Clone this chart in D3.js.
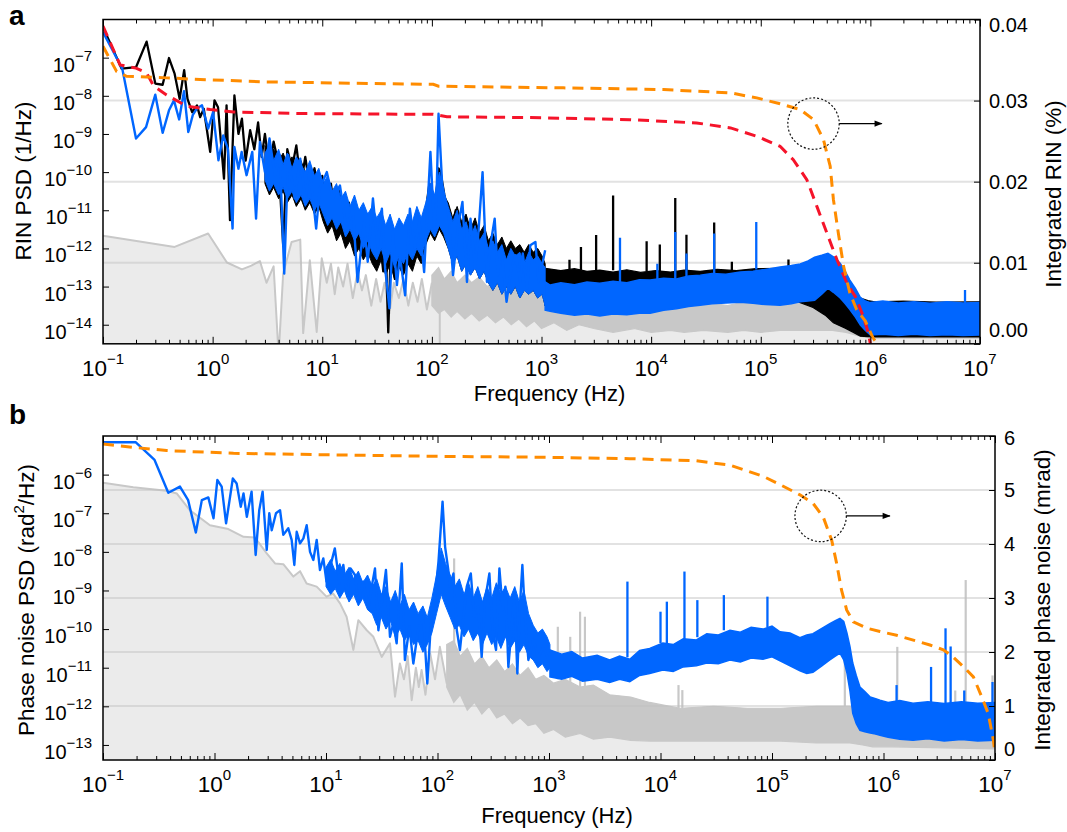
<!DOCTYPE html>
<html><head><meta charset="utf-8">
<script src="https://cdn.jsdelivr.net/npm/d3@7"></script>
<style>body{margin:0;background:#fff} text{font-family:"Liberation Sans",Arial,Helvetica,sans-serif;fill:#000}</style>
</head><body><svg id="c" width="1067" height="832"></svg>
<script>
// ===== DATA (frequencies in Hz, PSD values stored as log10 of the value) =====
const xTickExp = [-1,0,1,2,3,4,5,6,7];
const aYTickExp = [-7,-8,-9,-10,-11,-12,-13,-14];
const bYTickExp = [-6,-7,-8,-9,-10,-11,-12,-13];
const aRightTicks = [0,0.01,0.02,0.03,0.04];
const bRightTicks = [0,1,2,3,4,5,6];
const aGridVals = [0.01,0.02,0.03];
const bGridVals = [1,2,3,4,5];

// Panel a — grey (detection floor)
const aGreyLineF = [0.1,0.45,0.91,1.35,1.85,2.26,2.7,3.1,3.6,4.0,4.4,5.25,6.3,6.7,7.7,8.9,9.9,11,12,13,14,15.5,17,19,21,23,25,28,31,34,37,41,45,50,55,61,67,74,81,90,100];
const aGreyLineLog = [-11.67,-11.96,-11.61,-12.37,-12.55,-12.45,-12.33,-12.9,-12.47,-14.8,-12.66,-11.83,-11.77,-14.22,-12.31,-14.19,-12.26,-12.9,-12.4,-13.2,-12.5,-13.0,-12.4,-13.3,-12.6,-13.1,-12.7,-13.5,-12.8,-13.4,-12.9,-13.7,-12.9,-13.3,-12.8,-13.5,-12.9,-13.4,-12.8,-13.6,-12.9];
const aGreyBandF = [100,115,130,150,170,200,230,270,320,380,450,530,620,730,860,1000,1300,1700,2200,3000,4500,7000,1e4,1.5e4,2e4,3e4,5e4,7e4,1e5,1.5e5,2.5e5,3.5e5,4.5e5,6e5,8e5,1e6,1e7];
const aGreyBandHi = [-12.7,-12.5,-12.8,-12.6,-12.9,-12.7,-12.9,-12.75,-13.0,-12.85,-13.1,-12.9,-13.1,-13.0,-13.2,-13.0,-13.25,-13.15,-13.35,-13.3,-13.45,-13.35,-13.5,-13.4,-13.5,-13.4,-13.5,-13.4,-13.45,-13.4,-13.4,-13.35,-13.33,-13.6,-14.0,-14.25,-14.25];
const aGreyBandLo = [-13.5,-13.7,-13.6,-13.8,-13.65,-13.85,-13.7,-13.9,-13.75,-13.95,-13.8,-14.0,-13.85,-14.05,-13.9,-14.1,-13.95,-14.15,-14.0,-14.1,-14.2,-14.1,-14.2,-14.15,-14.2,-14.15,-14.2,-14.15,-14.2,-14.15,-14.15,-14.15,-14.15,-14.2,-14.3,-14.35,-14.35];
const aGreySpikeF = [118];
const aGreySpikeBase = [-13.0];
const aGreySpikePeak = [-14.7];

// Panel a — dense-noise core envelopes (3 Hz – 1.08 kHz), shared sample frequencies
const aCoreF = [3,3.3,3.6,4.0,4.4,4.8,5.3,5.8,6.4,7.0,7.7,8.5,9.3,10.2,11.2,12.3,13.5,14.8,16.3,17.9,19.7,21.6,23.7,26,28.6,31.4,34.5,37.9,41.6,45.7,50.2,55.1,60.5,66.5,73,80,88,97,106,117,128,141,155,170,187,205,225,248,272,299,328,360,396,435,478,525,577,634,696,765,840,923,1014,1080];

// Panel a — black RIN
const aBlackLineF = [0.1,0.148,0.2,0.25,0.3,0.35,0.4,0.45,0.5,0.55,0.59,0.65,0.72,0.77,0.83,0.95,1.04,1.12,1.27,1.34,1.44,1.58,1.72,1.85,2.0,2.2,2.4,2.6,2.8,3.0,3.3,3.6,4.0,4.4,4.8,5.3,5.8,6.4,7,7.7,8.5,9.3,10,11,12,13,14.5,16,17.5,19,21,23,25,27,29,31,33,36,38,40,42,46,50,55,60,66,72,80,88,95,105,115,120,130,140,150,165,180,200,220,240,265,290,320,350,390,430,480,530,580,640,700,780,860,950,1080];
const aBlackLineLog = [-6.2,-7.29,-7.25,-6.58,-7.68,-7.71,-7.01,-7.42,-8.08,-7.33,-8.08,-8.43,-8.25,-8.56,-8.34,-9.47,-8.12,-8.3,-10.17,-8.25,-11.26,-7.99,-9.0,-8.6,-9.7,-8.9,-9.4,-8.7,-9.6,-9.0,-9.9,-9.2,-9.8,-11.9,-9.4,-9.9,-9.3,-10.3,-9.6,-10.4,-9.9,-10.7,-10.1,-10.9,-10.3,-11.1,-10.5,-11.4,-10.8,-11.6,-11.0,-11.8,-11.2,-12.2,-11.4,-12.4,-11.6,-12.6,-12.0,-14.2,-12.2,-12.8,-11.9,-12.6,-11.5,-12.3,-11.4,-12.0,-11.0,-10.3,-11.2,-9.9,-10.0,-10.6,-11.0,-11.6,-11.0,-11.9,-11.3,-12.2,-11.6,-12.4,-11.8,-12.5,-11.9,-12.6,-12.2,-12.8,-12.3,-12.9,-12.2,-12.9,-12.3,-12.8,-12.3,-12.6];
const aBlackCoreHi = [-9.3,-9.6,-9.4,-9.7,-9.5,-9.8,-9.6,-9.9,-9.7,-10.0,-9.8,-10.1,-10.0, -10.4,-10.2,-10.6,-10.4,-10.8,-10.6,-11.0,-10.8,-11.1,-10.9,-11.2,-11.0, -11.3,-11.1,-11.5,-11.3,-11.6,-11.4,-11.5,-11.2,-11.4,-11.0,-11.3, -10.9,-10.5,-10.7,-10.2,-10.6, -10.8,-11.2,-10.9,-11.3,-11.1,-11.5,-11.2,-11.6,-11.4, -11.8,-11.6,-11.9,-11.7,-12.0,-11.8,-12.0,-11.9,-12.1,-11.9,-12.1,-12.0,-12.2,-12.4];
const aBlackCoreLo = [-10.3,-10.6,-10.4,-10.7,-10.5,-10.8,-10.6,-10.9,-10.7,-11.0,-10.8,-11.1,-10.9, -11.3,-11.6,-11.4,-11.8,-11.6,-12.0,-11.8,-12.2,-12.0,-12.3,-12.1,-12.4, -12.6,-12.3,-12.7,-12.4,-12.8,-12.5,-12.7,-12.4,-12.6,-12.2,-12.4, -11.9,-11.6,-11.8,-11.5,-11.7, -12.0,-12.4,-12.2,-12.6,-12.4,-12.7,-12.5,-12.8,-12.6, -12.9,-13.1,-12.9,-13.2,-13.0,-13.2,-13.0,-13.3,-13.1,-13.2,-13.1,-13.3,-13.2,-13.5];
const aBlackBandF = [1080,1500,2000,2600,3400,4500,6000,8000,1.1e4,1.5e4,2e4,2.8e4,4e4,6e4,9e4,1.5e5,2.2e5,3e5,3.87e5,4.6e5,5.9e5,7e5,8.1e5,9.5e5,1.1e6,2e6,4e6,1e7];
const aBlackBandHi = [-12.52,-12.58,-12.53,-12.6,-12.57,-12.62,-12.56,-12.63,-12.58,-12.62,-12.57,-12.6,-12.55,-12.58,-12.53,-12.52,-12.55,-12.5,-12.52,-12.7,-12.96,-13.15,-13.3,-13.37,-13.4,-13.38,-13.41,-13.4];
const aBlackBandLo = [-13.49,-13.47,-13.45,-13.45,-13.45,-13.44,-13.44,-13.43,-13.43,-13.43,-13.43,-13.43,-13.4,-13.38,-13.37,-13.36,-13.4,-13.55,-13.75,-13.95,-14.09,-14.2,-14.3,-14.31,-14.32,-14.32,-14.32,-14.32];
const aBlackSpikeF = [1800,2290,3150,4500,9100,1.2e4,1.66e4,2.1e4,3.76e4,5.45e4,1.79e5];
const aBlackSpikeBase = [-12.55,-12.57,-12.57,-12.57,-12.6,-12.6,-12.6,-12.6,-12.6,-12.6,-12.52];
const aBlackSpikePeak = [-12.3,-11.96,-11.65,-10.61,-11.81,-11.9,-10.68,-11.64,-11.32,-12.35,-12.29];

// Panel a — blue RIN
const aBlueLineF = [0.1,0.15,0.2,0.247,0.30,0.35,0.40,0.444,0.495,0.548,0.6,0.66,0.72,0.8,0.91,1.01,1.13,1.25,1.38,1.52,1.58,1.72,1.84,2.04,2.3,2.49,2.7,3.0,3.3,3.7,4.1,4.5,4.9,5.6,6.3,7.0,7.7,8.8,9.5,11,12.5,14.5,16.6,19,21,24,26,29,32,35,37.5,41,44,48,51,57,63,70,77,85,97,105,110,115,124,133,142,156,174,190,209,225,248,266,290,318,338,374,400,430,480,530,580,640,675,740,790,880,940,1080];
const aBlueLineLog = [-6.33,-7.29,-9.12,-8.82,-7.97,-8.97,-8.38,-8.12,-8.62,-7.88,-8.95,-8.5,-8.33,-8.25,-8.86,-8.43,-9.69,-9.04,-9.39,-11.48,-9.34,-9.91,-9.47,-10.08,-9.47,-11.22,-9.21,-10.0,-9.12,-10.08,-9.56,-12.66,-9.56,-10.69,-9.65,-10.78,-9.91,-11.48,-10.43,-10.0,-10.69,-10.35,-11.48,-10.96,-12.88,-11.31,-12.35,-10.69,-12.0,-10.96,-12.53,-13.57,-11.57,-12.96,-12.18,-13.23,-10.96,-12.0,-11.3,-12.62,-9.47,-11.48,-10.78,-8.47,-10.3,-10.78,-11.13,-12.7,-11.39,-10.78,-12.88,-11.22,-12.53,-11.57,-10.0,-12.88,-12.0,-11.22,-12.7,-12.0,-13.4,-12.53,-12.18,-12.88,-12.13,-13.05,-11.92,-11.83,-12.88,-12.05];
const aBlueCoreHi = [-9.5,-9.3,-9.7,-9.4,-9.8,-9.5,-9.9,-9.6,-9.8,-10.0,-9.7,-10.1,-9.9, -10.3,-10.1,-10.5,-10.3,-10.7,-10.5,-10.9,-10.6,-11.0,-10.8,-11.1,-10.9, -11.2,-11.0,-11.4,-11.1,-11.5,-11.2,-11.4,-11.1,-11.3,-10.9,-11.2, -10.8,-10.3,-10.6,-10.0,-10.5, -10.9,-11.3,-11.0,-11.5,-11.3,-11.7,-11.4,-11.8,-11.6, -12.0,-11.8,-12.1,-11.9,-12.3,-12.0,-12.2,-12.1,-12.4,-12.1,-12.3,-12.2,-12.4,-12.5];
const aBlueCoreLo = [-10.2,-10.5,-10.3,-10.6,-10.4,-10.7,-10.5,-10.8,-10.6,-10.9,-10.7,-11.0,-10.8, -11.1,-11.4,-11.2,-11.5,-11.3,-11.7,-11.5,-11.8,-11.6,-12.0,-11.8,-12.1, -12.3,-12.0,-12.4,-12.1,-12.5,-12.2,-12.4,-12.1,-12.3,-12.0,-12.2, -11.8,-11.5,-11.7,-11.4,-11.6, -12.0,-12.4,-12.2,-12.6,-12.4,-12.7,-12.5,-12.8,-12.6, -12.9,-13.1,-12.9,-13.2,-13.0,-13.2,-13.0,-13.3,-13.1,-13.2,-13.1,-13.3,-13.2,-13.5];
const aBlueBandF = [1080,1200,1500,2000,2600,3400,4500,6000,7800,9800,1.3e4,1.7e4,2.2e4,2.8e4,3.6e4,4.8e4,6.5e4,8.5e4,1.1e5,1.5e5,1.9e5,2.29e5,2.7e5,3.1e5,3.6e5,4.1e5,4.6e5,5.3e5,5.9e5,6.5e5,7.3e5,8.1e5,9e5,1e6,1.3e6,1.8e6,2.5e6,3.5e6,5e6,7e6,1e7];
const aBlueBandHi = [-12.88,-12.96,-12.9,-12.95,-12.88,-12.91,-12.86,-12.9,-12.82,-12.83,-12.78,-12.8,-12.72,-12.7,-12.66,-12.68,-12.62,-12.6,-12.55,-12.49,-12.45,-12.41,-12.33,-12.23,-12.18,-12.13,-12.22,-12.39,-12.6,-12.83,-13.05,-13.28,-13.38,-13.42,-13.38,-13.43,-13.4,-13.44,-13.4,-13.43,-13.42];
const aBlueBandLo = [-13.62,-13.65,-13.7,-13.75,-13.72,-13.77,-13.72,-13.74,-13.7,-13.7,-13.62,-13.58,-13.52,-13.49,-13.45,-13.43,-13.41,-13.44,-13.47,-13.49,-13.45,-13.4,-13.38,-13.36,-13.2,-13.04,-13.15,-13.3,-13.45,-13.6,-13.8,-14.01,-14.15,-14.27,-14.25,-14.28,-14.25,-14.28,-14.26,-14.28,-14.27];
const aBlueSpikeF = [5200,1.14e4,1.66e4,2.1e4,3.76e4,9.1e4,7.3e6];
const aBlueSpikeBase = [-12.9,-12.83,-12.8,-12.75,-12.7,-12.55,-13.43];
const aBlueSpikePeak = [-11.72,-12.4,-11.57,-12.13,-11.61,-11.31,-13.09];

// Panel a — integrated RIN (%)
const aRedF = [0.1,0.143,0.2,0.25,0.29,0.38,0.58,0.95,1.55,6.3,103,137,790,6.4e3,2.6e4,5.3e4,9.2e4,1.5e5,1.98e5,2.63e5,3.25e5,4e5,4.95e5,6.1e5,7.3e5,8.6e5,9.55e5,1e6];
const aRedVal = [0.0392,0.0344,0.0340,0.0334,0.0318,0.0307,0.0293,0.0289,0.0286,0.0284,0.0283,0.0280,0.0279,0.02765,0.02724,0.02663,0.0256,0.02436,0.0227,0.02025,0.01695,0.0137,0.0104,0.0075,0.0058,0.0034,0.0014,0.0];
const aOrangeF = [0.1,0.133,0.164,0.38,0.77,3.1,103,115,1580,1.3e4,5.3e4,9.2e4,1.5e5,2.29e5,3.03e5,3.73e5,4.3e5,4.6e5,5.1e5,5.7e5,6.5e5,7.5e5,9e5,1.05e6,1.15e6];
const aOrangeVal = [0.0367,0.0336,0.0330,0.0328,0.0326,0.0323,0.0320,0.03177,0.03157,0.03136,0.03095,0.03033,0.0296,0.0289,0.02765,0.0252,0.0219,0.0178,0.01367,0.00954,0.00626,0.0042,0.0028,0.0008,0.0];
const aMarker = {f:3.03e5, v:0.02716, arrowTo:1.27e6};

// Panel b — grey floor
const bGreyLineF = [0.1,0.187,0.37,0.46,0.6,0.91,1.33,1.82,2.31,2.94,3.49,4.14,5.1,5.85,6.7,8.25,10.1,11.6,13.4,15.3,17.6,19.5,23.2,26.6,31.6,37.5,41.6,46,50,54,58.7,64,68,72,78,86,95,105,121];
const bGreyLineLog = [-6.21,-6.33,-6.42,-6.49,-6.92,-7.31,-7.41,-7.61,-7.63,-8.04,-8.3,-8.32,-8.64,-8.5,-8.82,-8.9,-9.16,-9.08,-9.34,-9.68,-10.54,-9.77,-10.03,-10.2,-10.72,-10.37,-11.75,-10.89,-11.3,-10.7,-11.84,-11.0,-11.5,-11.06,-11.7,-10.63,-11.3,-10.46,-11.41];
const bGreyBandF = [121,140,160,185,215,250,290,340,400,470,550,650,760,900,1100,1400,1900,2500,3500,5400,8000,1.5e4,3e4,6e4,1.2e5,2.5e5,5e5,6.5e5,8e5,1.2e6,1e7];
const bGreyBandHi = [-10.4,-10.3,-10.7,-10.5,-10.9,-10.7,-11.0,-10.8,-11.1,-10.9,-11.2,-11.0,-11.3,-11.2,-11.4,-11.3,-11.5,-11.45,-11.7,-11.76,-11.9,-12.05,-12.0,-12.05,-12.05,-12.0,-12.0,-12.2,-12.5,-12.6,-12.6];
const bGreyBandLo = [-11.5,-11.9,-11.7,-12.1,-11.9,-12.2,-12.0,-12.3,-12.2,-12.45,-12.3,-12.5,-12.45,-12.7,-12.6,-12.8,-12.7,-12.85,-12.8,-12.88,-12.9,-12.9,-12.9,-12.9,-12.9,-12.95,-12.95,-13.0,-13.05,-13.05,-13.1];
const bGreySpikeF = [141,1200,1550,1900,2100,1.45e4,1.57e4,4.5e5,1.33e6,4.4e6,5.46e6,9.5e6];
const bGreySpikeBase = [-10.5,-11.3,-11.4,-11.5,-11.5,-12.05,-12.05,-12.0,-12.6,-12.6,-12.6,-12.6];
const bGreySpikePeak = [-8.17,-9.94,-10.2,-9.55,-9.68,-11.45,-11.58,-9.94,-10.46,-11.59,-8.73,-11.2];

// Panel b — blue phase noise
const bBlueLineF = [0.1,0.196,0.29,0.385,0.49,0.58,0.68,0.77,0.88,0.98,1.06,1.16,1.27,1.46,1.58,1.72,1.82,1.95,2.15,2.34,2.52,2.7,2.94,3.1,3.26,3.56,3.87,4.14,4.59,4.92,5.2,5.46,5.85,6.27,6.71,7.19,7.7,8.25,8.83,9.46,10.1,10.9,12,13.2,14.3,15.5,16.6,18.2,19.5,21.6,24,25.7,27.5,29.5,32.2,34.5,37.5,40.2,43,47.8,51,56,60.7,67,74.6,81,88.7,95,102,111,117,125,129,139,149,159,171,183,199,213,232,249,267,292,313,335,359,385,406,432,463,489,520,550,577,610,653,724,803,891,1023];
const bBlueLineLog = [-5.16,-5.16,-5.62,-6.47,-6.31,-6.66,-7.5,-6.66,-6.59,-7.13,-6.14,-6.31,-7.26,-6.1,-6.23,-6.83,-6.49,-7.09,-6.44,-8.08,-6.92,-6.44,-7.95,-7.0,-7.44,-7.0,-6.92,-7.56,-7.39,-7.69,-8.34,-7.48,-7.78,-7.65,-7.31,-8.0,-8.21,-7.69,-8.47,-8.17,-8.77,-8.39,-7.91,-8.82,-8.34,-9.16,-8.43,-8.6,-9.29,-8.77,-9.46,-8.9,-8.43,-10.03,-9.16,-8.47,-10.2,-9.85,-10.37,-8.3,-10.8,-9.94,-10.89,-10.03,-9.68,-11.41,-9.51,-9.16,-8.26,-6.7,-7.87,-8.47,-8.9,-8.56,-10.03,-10.54,-9.68,-8.9,-8.56,-9.68,-9.42,-10.72,-9.25,-8.56,-10.11,-10.54,-8.43,-9.51,-8.9,-10.98,-9.94,-9.08,-11.15,-9.34,-8.34,-9.68,-10.8,-10.28,-10.72,-10.46,-10.89];
const bCoreF = [10,11,12.1,13.3,14.6,16.1,17.7,19.5,21.4,23.6,26,28.5,31.4,34.5,38,41.8,46,50.5,55.6,61,67,74,81,89,98,108,118,130,143,157,173,190,209,230,253,278,306,337,370,407,448,493,542,596,656,722,794,873,960,1020];
const bBlueCoreHi = [-8.4,-8.2,-8.5,-8.3,-8.6,-8.4,-8.7,-8.5,-8.8,-8.6, -8.9,-8.7,-9.1,-8.9,-9.3,-9.0,-9.4,-9.1,-9.5,-9.3, -9.6,-9.4,-9.7,-9.2,-8.6,-7.9,-8.3,-8.6,-8.9,-8.7, -9.1,-8.8,-9.2,-8.9,-9.3,-8.9,-9.2,-8.8,-9.1,-8.9, -9.2,-8.9,-9.3,-9.0,-9.6,-9.9,-10.1,-10.0,-10.2,-10.4];
const bBlueCoreLo = [-8.9,-9.1,-8.95,-9.2,-9.0,-9.3,-9.1,-9.4,-9.2,-9.5, -9.6,-9.9,-9.7,-10.0,-9.8,-10.2,-10.0,-10.3,-10.1,-10.4, -10.3,-10.6,-10.4,-10.1,-9.6,-9.1,-9.4,-9.7,-10.0,-9.9, -10.2,-10.0,-10.3,-10.1,-10.4,-10.1,-10.4,-10.2,-10.5,-10.2, -10.5,-10.3,-10.6,-10.4,-10.7,-10.8,-11.0,-10.9,-11.1,-11.0];
const bBlueBandF = [1020,1300,1600,2000,2700,3500,4300,5300,6500,8000,1.05e4,1.3e4,1.6e4,2.1e4,2.6e4,3.3e4,4.2e4,5.2e4,6.5e4,8.3e4,1.0e5,1.18e5,1.45e5,1.78e5,2.05e5,2.33e5,2.8e5,3.3e5,3.7e5,4.07e5,4.4e5,4.7e5,5.0e5,5.3e5,5.7e5,6.15e5,6.8e5,7.6e5,8.5e5,9.3e5,1.1e6,1.4e6,1.84e6,2.5e6,3.5e6,5e6,7e6,1e7];
const bBlueBandHi = [-10.54,-10.65,-10.58,-10.75,-10.68,-10.8,-10.7,-10.78,-10.55,-10.5,-10.36,-10.4,-10.25,-10.28,-10.12,-10.15,-10.03,-10.08,-9.95,-10.0,-9.92,-10.07,-10.1,-10.22,-10.15,-10.12,-9.98,-9.86,-9.78,-9.72,-9.8,-10.1,-10.45,-10.88,-11.2,-11.5,-11.62,-11.76,-11.8,-11.84,-11.9,-11.85,-11.92,-11.88,-11.93,-11.88,-11.92,-11.9];
const bBlueBandLo = [-11.24,-11.3,-11.22,-11.35,-11.3,-11.38,-11.3,-11.36,-11.2,-11.15,-11.06,-11.1,-10.98,-10.95,-10.88,-10.9,-10.8,-10.85,-10.75,-10.78,-10.72,-10.82,-10.95,-11.08,-11.15,-11.12,-10.95,-10.8,-10.7,-10.62,-10.8,-11.14,-11.6,-12.18,-12.45,-12.62,-12.66,-12.69,-12.72,-12.75,-12.8,-12.85,-12.88,-12.84,-12.9,-12.86,-12.9,-12.88];
const bBlueSpikeF = [5050,1e4,1.14e4,1.64e4,2.14e4,3.7e4,9.1e4,1.31e6,2.67e6,3.6e6,4e6,5.3e6,9.5e6];
const bBlueSpikeBase = [-10.73,-10.36,-10.36,-10.3,-10.21,-10.03,-9.95,-11.92,-11.92,-11.92,-11.92,-11.92,-11.92];
const bBlueSpikePeak = [-8.77,-9.55,-9.29,-8.51,-9.25,-9.12,-9.16,-11.45,-10.98,-9.98,-10.45,-11.59,-11.37];

// Panel b — integrated phase noise (mrad)
const bOrangeF = [0.1,0.187,0.372,1.48,11.6,129,676,5300,2.1e4,4.2e4,8.4e4,1.18e5,1.78e5,2.34e5,2.88e5,3.43e5,3.8e5,4.2e5,4.67e5,5.36e5,7.1e5,9.3e5,1.31e6,1.85e6,2.61e6,3.44e6,4.2e6,5.2e6,6.4e6,7.6e6,8.7e6,9.66e6,1e7];
const bOrangeVal = [5.85,5.79,5.73,5.68,5.65,5.62,5.61,5.58,5.54,5.46,5.25,5.1,4.91,4.75,4.5,4.07,3.64,3.15,2.78,2.56,2.44,2.38,2.31,2.22,2.13,2.04,1.91,1.73,1.54,1.17,0.86,0.37,0.13];
const bMarker = {f:2.73e5, v:4.52, arrowTo:1.14e6};

// ===== DRAWING =====
const svg = d3.select('#c');
const P10 = v => Math.pow(10, v);
const C = {blue:'#0066ff', black:'#000', grey:'#c8c8c8', light:'#ebebeb', red:'#f5142a', orange:'#ff8c00', grid:'rgba(190,190,190,0.45)'};

const defs = svg.append('defs');
defs.append('marker').attr('id','arr').attr('viewBox','0 0 10 10').attr('refX',9).attr('refY',5)
  .attr('markerWidth',10).attr('markerHeight',8).attr('markerUnits','userSpaceOnUse').attr('orient','auto')
  .append('path').attr('d','M0,1 L10,5 L0,9 Z').attr('fill','#000');

const minorTicks = [];
for (let e=-1;e<7;e++) for (let m=2;m<10;m++) minorTicks.push(m*Math.pow(10,e));
const majorTicks = xTickExp.map(P10);

function panel(o) {
  const {id, L, R, T, Bm, yTop, yBot, rDom} = o;
  const x = d3.scaleLog().domain([0.1,1e7]).range([L,R]);
  const y = d3.scaleLog().domain([P10(yBot),P10(yTop)]).range([Bm,T]);
  const r = d3.scaleLinear().domain(rDom).range([Bm,T]);
  defs.append('clipPath').attr('id','clip'+id).append('rect').attr('x',L).attr('y',T).attr('width',R-L).attr('height',Bm-T);
  const g = svg.append('g').attr('clip-path',`url(#clip${id})`);
  const idx = a => a.map((_,i)=>i);
  const line = (F,V) => d3.line().x(i=>x(F[i])).y(i=>y(P10(V[i])))(idx(F));
  const rline = (F,V) => d3.line().x(i=>x(F[i])).y(i=>r(V[i]))(idx(F));
  const band = (F,Lo,Hi) => d3.area().x(i=>x(F[i])).y0(i=>y(P10(Lo[i]))).y1(i=>y(P10(Hi[i])))(idx(F));
  const spikes = (F,Bs,Pk,col,w) => F.forEach((f,i)=>g.append('line').attr('x1',x(f)).attr('x2',x(f))
      .attr('y1',y(P10(Bs[i]))).attr('y2',y(P10(Pk[i]))).attr('stroke',col).attr('stroke-width',w));
  const drawLine = (F,V,col,w) => g.append('path').attr('d',line(F,V)).attr('fill','none').attr('stroke',col).attr('stroke-width',w).attr('stroke-linejoin','round');
  const drawBand = (F,Lo,Hi,col,w) => g.append('path').attr('d',band(F,Lo,Hi)).attr('fill',col).attr('stroke',col).attr('stroke-width',w).attr('stroke-linejoin','miter');
  return {x,y,r,g,line,rline,band,spikes,drawLine,drawBand,L,R,T,Bm};
}

function fillUnder(p, F1, V1, F2, V2) {
  const pts = F1.map((f,i)=>[p.x(f), p.y(P10(V1[i]))]).concat(F2.map((f,i)=>[p.x(f), p.y(P10(V2[i]))]));
  const area = d3.area().x(d=>d[0]).y0(p.Bm+5).y1(d=>d[1]);
  p.g.append('path').attr('d',area(pts)).attr('fill',C.light);
}

function grid(p, vals) {
  vals.forEach(v=>p.g.append('line').attr('x1',p.L).attr('x2',p.R).attr('y1',p.r(v)).attr('y2',p.r(v))
    .attr('stroke',C.grid).attr('stroke-width',2));
}

function axes(p, yExp, rTicks, rFmt, rNudge, xLabY, titleL, titleLPos, titleR, titleRPos, xTitleY) {
  const ax = svg.append('g');
  const clean = s => { s.select('.domain').remove(); s.selectAll('text').remove(); s.selectAll('line').attr('stroke','#000').attr('stroke-width',1); };
  ax.append('g').attr('transform',`translate(0,${p.Bm})`).call(d3.axisBottom(p.x).tickValues(majorTicks).tickSize(-7)).call(clean);
  ax.append('g').attr('transform',`translate(0,${p.Bm})`).call(d3.axisBottom(p.x).tickValues(minorTicks).tickSize(-4)).call(clean);
  ax.append('g').attr('transform',`translate(0,${p.T})`).call(d3.axisTop(p.x).tickValues(majorTicks).tickSize(-7)).call(clean);
  ax.append('g').attr('transform',`translate(0,${p.T})`).call(d3.axisTop(p.x).tickValues(minorTicks).tickSize(-4)).call(clean);
  ax.append('g').attr('transform',`translate(${p.L},0)`).call(d3.axisLeft(p.y).tickValues(yExp.map(P10)).tickSize(-6)).call(clean);
  ax.append('g').attr('transform',`translate(${p.R},0)`).call(d3.axisRight(p.r).tickValues(rTicks).tickSize(-6)).call(clean);
  ax.append('rect').attr('x',p.L).attr('y',p.T).attr('width',p.R-p.L).attr('height',p.Bm-p.T)
    .attr('fill','none').attr('stroke','#000').attr('stroke-width',1.5);
  const sup = e => e<0 ? '\u2212'+(-e) : String(e);
  xTickExp.forEach(e=>{
    const t = ax.append('text').attr('x',p.x(P10(e))).attr('y',xLabY).attr('text-anchor','middle').style('font-size','22.5px');
    t.append('tspan').text('10');
    t.append('tspan').attr('dy',-12).style('font-size','15px').text(sup(e));
  });
  yExp.forEach(e=>{
    const t = ax.append('text').attr('x',p.L-11).attr('y',p.y(P10(e))+14).attr('text-anchor','end').style('font-size','20px');
    t.append('tspan').text('10');
    t.append('tspan').attr('dy',-11).style('font-size','15px').text(sup(e));
  });
  rTicks.forEach((v,i)=>{
    ax.append('text').attr('x',p.R+9).attr('y',p.r(v)+7+(rNudge[i]||0)).style('font-size','20px').text(rFmt(v));
  });
  ax.append('text').attr('transform',`translate(${titleLPos[0]},${titleLPos[1]}) rotate(-90)`).attr('text-anchor','middle')
    .attr('dominant-baseline','central').style('font-size','22.5px').html(titleL);
  ax.append('text').attr('transform',`translate(${titleRPos[0]},${titleRPos[1]}) rotate(-90)`).attr('text-anchor','middle')
    .attr('dominant-baseline','central').style('font-size','22.5px').text(titleR);
  ax.append('text').attr('x',(p.L+p.R)/2+8).attr('y',xTitleY).attr('text-anchor','middle').style('font-size','22px').text('Frequency (Hz)');
}

function marker(p, m) {
  const cx = p.x(m.f), cy = p.r(m.v), rad = 25.7;
  svg.append('circle').attr('cx',cx).attr('cy',cy).attr('r',rad).attr('fill','none')
    .attr('stroke','#111').attr('stroke-width',1.2).attr('stroke-dasharray','2,2');
  svg.append('line').attr('x1',cx+rad).attr('x2',p.x(m.arrowTo)).attr('y1',cy).attr('y2',cy)
    .attr('stroke','#000').attr('stroke-width',1.3).attr('marker-end','url(#arr)');
}

// ---- Panel a ----
const pa = panel({id:'a', L:103, R:980, T:19.5, Bm:343.8, yTop:-6, yBot:-14.5, rDom:[0,0.04]});
fillUnder(pa, aGreyLineF, aGreyLineLog, aGreyBandF, aGreyBandHi);
pa.drawBand(aGreyBandF,aGreyBandLo,aGreyBandHi,C.grey,1.2);
pa.drawLine(aGreyLineF,aGreyLineLog,C.grey,2);
pa.spikes(aGreySpikeF,aGreySpikeBase,aGreySpikePeak,C.grey,2);
grid(pa, aGridVals);
pa.drawBand(aCoreF,aBlackCoreLo,aBlackCoreHi,C.black,1);
pa.drawLine(aBlackLineF,aBlackLineLog,C.black,2.3);
pa.drawBand(aBlackBandF,aBlackBandLo,aBlackBandHi,C.black,1.2);
pa.spikes(aBlackSpikeF,aBlackSpikeBase,aBlackSpikePeak,C.black,2.3);
pa.drawBand(aCoreF,aBlueCoreLo,aBlueCoreHi,C.blue,1);
pa.drawLine(aBlueLineF,aBlueLineLog,C.blue,2.4);
pa.drawBand(aBlueBandF,aBlueBandLo,aBlueBandHi,C.blue,1.5);
pa.spikes(aBlueSpikeF,aBlueSpikeBase,aBlueSpikePeak,C.blue,2.3);
pa.g.append('path').attr('d',pa.rline(aRedF,aRedVal)).attr('fill','none').attr('stroke',C.red).attr('stroke-width',3).attr('stroke-dasharray','11,7');
pa.g.append('path').attr('d',pa.rline(aOrangeF,aOrangeVal)).attr('fill','none').attr('stroke',C.orange).attr('stroke-width',3).attr('stroke-dasharray','11,7');
axes(pa, aYTickExp, aRightTicks, d3.format('.2f'), [-14,0,0,0,5], 376,
  'RIN PSD (1/Hz)', [23,181], 'Integrated RIN (%)', [1053,194], 401);
marker(pa, aMarker);

// ---- Panel b ----
const pb = panel({id:'b', L:103, R:995, T:436, Bm:760, yTop:-5, yBot:-13.39, rDom:[0,6]});
fillUnder(pb, bGreyLineF, bGreyLineLog, bGreyBandF, bGreyBandHi);
pb.drawBand(bGreyBandF,bGreyBandLo,bGreyBandHi,C.grey,1.2);
pb.drawLine(bGreyLineF,bGreyLineLog,C.grey,2);
pb.spikes(bGreySpikeF,bGreySpikeBase,bGreySpikePeak,C.grey,2.2);
grid(pb, bGridVals);
pb.drawBand(bCoreF,bBlueCoreLo,bBlueCoreHi,C.blue,1);
pb.drawLine(bBlueLineF,bBlueLineLog,C.blue,2.4);
pb.drawBand(bBlueBandF,bBlueBandLo,bBlueBandHi,C.blue,1.5);
pb.spikes(bBlueSpikeF,bBlueSpikeBase,bBlueSpikePeak,C.blue,2.3);
pb.g.append('path').attr('d',pb.rline(bOrangeF,bOrangeVal)).attr('fill','none').attr('stroke',C.orange).attr('stroke-width',3).attr('stroke-dasharray','11,7');
axes(pb, bYTickExp, bRightTicks, d3.format('d'), [-11,0,0,0,0,0,2], 792,
  'Phase noise PSD (rad<tspan dy="-8" font-size="15">2</tspan><tspan dy="8">/Hz)</tspan>', [26,600], 'Integrated phase noise (mrad)', [1042,600], 823);
marker(pb, bMarker);

svg.append('text').attr('x',9).attr('y',25).style('font-size','28px').style('font-weight','bold').text('a');
svg.append('text').attr('x',9).attr('y',424).style('font-size','28px').style('font-weight','bold').text('b');
</script></body></html>
